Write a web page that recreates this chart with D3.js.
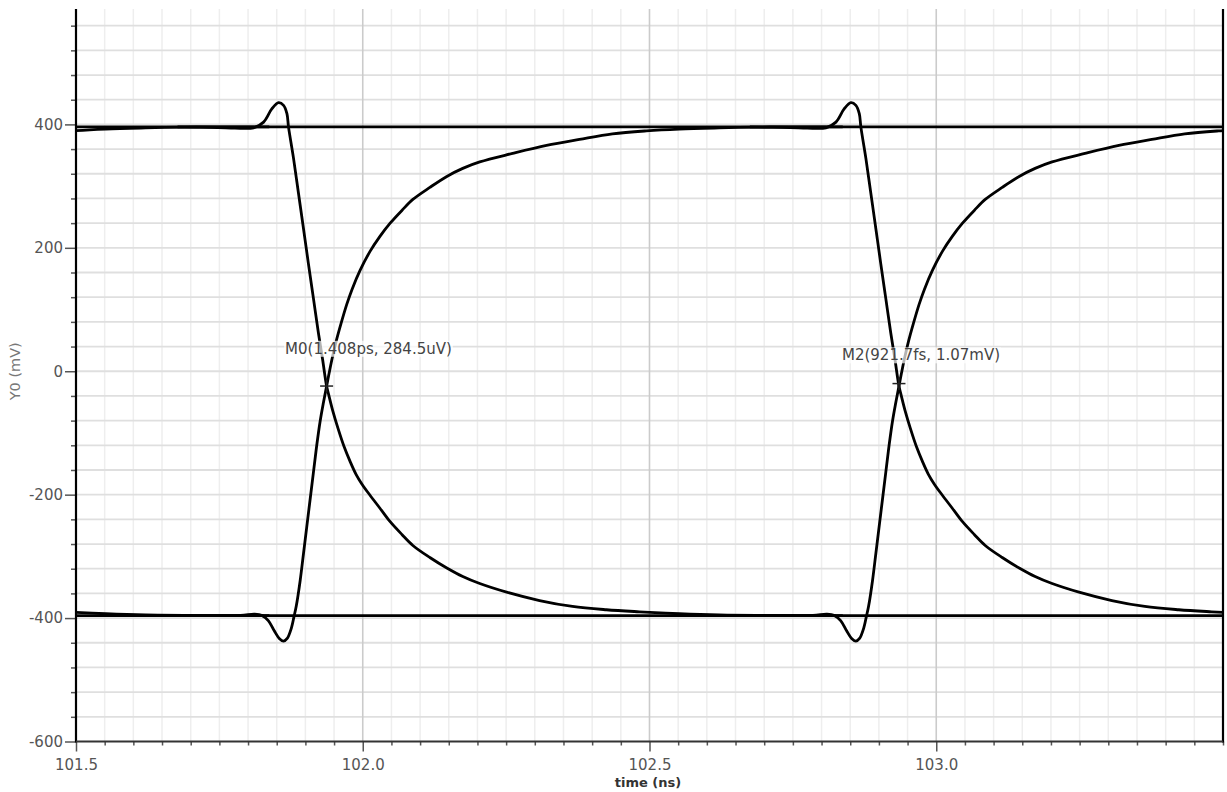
<!DOCTYPE html>
<html>
<head>
<meta charset="utf-8">
<script src="https://cdn.jsdelivr.net/npm/d3@7"></script>
<style>
  html, body { margin: 0; padding: 0; background: #fff; }
  svg { display: block; }
</style>
</head>
<body>
<svg id="chart" width="1227" height="792"></svg>
<script>
// ---------------- DATA ----------------
const xDomain = [101.5, 103.5];          // time (ns)
const yDomain = [-600, 587];             // Y0 (mV)
const xTickValues = [101.5, 102.0, 102.5, 103.0];
const xTickLabels = ["101.5", "102.0", "102.5", "103.0"];
const yTickValues = [-600, -400, -200, 0, 200, 400];
const yTickLabels = ["-600", "-400", "-200", "0", "200", "400"];
const xMinorStep = 0.05;
const yMinorStep = 40;

// steady levels (mV)
const highLevel = [[101.5, 396], [103.5, 396]];
const lowLevel = [[101.5, -396], [103.5, -396]];

// times (ns) of the edge crossings (previous, M0, M2)
const edgeCrossTimes = [100.937, 101.937, 102.935];

// falling edge: [time offset from crossing (ns), mV]
const fallingEdge = [
  [-0.260, 396], [-0.190, 395], [-0.160, 394], [-0.1273, 394.5],
  [-0.1099, 403.7], [-0.0953, 425.4], [-0.0838, 435.2], [-0.0751, 430.8],
  [-0.0692, 417.3], [-0.0664, 395.6], [-0.0577, 345], [-0.0490, 288],
  [-0.0403, 231], [-0.0317, 174], [-0.0230, 118], [-0.0143, 62],
  [-0.0070, 19], [0, -24.1],
  [0.0044, -41], [0.0110, -65], [0.0200, -93], [0.0304, -122],
  [0.0409, -146], [0.0513, -167], [0.0617, -183], [0.0757, -201],
  [0.0930, -222], [0.1104, -243.4], [0.1313, -264.5], [0.1504, -282.3],
  [0.1800, -301.8], [0.2096, -318.8], [0.2374, -332.6], [0.2670, -344],
  [0.3139, -358], [0.3713, -371.6], [0.4287, -381.2], [0.4878, -386.5],
  [0.5452, -389.8], [0.6148, -393], [0.6843, -395], [0.8226, -396], [0.90, -396]
];

// rising edge: [time offset from crossing (ns), mV]
const risingEdge = [
  [-0.260, -396], [-0.150, -395.5], [-0.1254, -393.5], [-0.1122, -396],
  [-0.1017, -404], [-0.0913, -420.6], [-0.0826, -433], [-0.0751, -437.4],
  [-0.0687, -433], [-0.0617, -417], [-0.0565, -396], [-0.0530, -381],
  [-0.0461, -339], [-0.0403, -295.3], [-0.0322, -233.7], [-0.0230, -164],
  [-0.0172, -120], [-0.0113, -81], [-0.0056, -51], [0, -24.1],
  [0.0044, -3], [0.0096, 20.6], [0.0165, 48], [0.0252, 77.5],
  [0.0351, 108.3], [0.0443, 132.6], [0.0583, 163.4], [0.0757, 194.2],
  [0.0930, 218.5], [0.1104, 239.5], [0.1313, 260.6], [0.1504, 278.4],
  [0.1800, 297.9], [0.2096, 315.7], [0.2374, 328.7], [0.2670, 339.2],
  [0.3243, 353.0], [0.3835, 366.0], [0.4409, 375.7], [0.4983, 384.6],
  [0.5574, 389.5], [0.6148, 392.4], [0.6843, 394.3], [0.7530, 395.6],
  [0.8226, 396], [0.90, 396]
];

// markers
const markerNames = ["M0", "M2"];
const markerTimes = [101.937, 102.935];
const markerValues = [-24, -20];
const markerLabels = ["M0(1.408ps, 284.5uV)", "M2(921.7fs, 1.07mV)"];

// ---------------- LAYOUT ----------------
const plot = { left: 76, right: 1223, top: 9, bottom: 741.5 };
const labelOffsets = [[-41.5, -37.5], [-57, -28.5]]; // label left / center-y relative to marker
const svg = d3.select("#chart");
const FONT = "'DejaVu Sans', Verdana, sans-serif";

const x = d3.scaleLinear().domain(xDomain).range([plot.left, plot.right]);
const y = d3.scaleLinear().domain(yDomain).range([plot.bottom, plot.top]);

// clip
svg.append("defs").append("clipPath").attr("id", "clip")
  .append("rect").attr("x", plot.left).attr("y", plot.top)
  .attr("width", plot.right - plot.left).attr("height", plot.bottom - plot.top);

// ---------------- GRID ----------------
const grid = svg.append("g");
const xMinor = d3.range(xDomain[0] + xMinorStep, xDomain[1] + 1e-9, xMinorStep)
  .filter(v => !xTickValues.some(t => Math.abs(t - v) < 1e-6));
const yMinor = d3.range(yDomain[0] + yMinorStep, yDomain[1], yMinorStep);

grid.selectAll("line.vmin").data(xMinor).join("line")
  .attr("x1", d => x(d)).attr("x2", d => x(d))
  .attr("y1", plot.top).attr("y2", plot.bottom)
  .attr("stroke", "#eeeeee").attr("stroke-width", 1.5);
grid.selectAll("line.hmin").data(yMinor).join("line")
  .attr("x1", plot.left).attr("x2", plot.right)
  .attr("y1", d => y(d)).attr("y2", d => y(d))
  .attr("stroke", "#dfdfdf").attr("stroke-width", 1.8);
grid.selectAll("line.vmaj").data(xTickValues.slice(1)).join("line")
  .attr("x1", d => x(d)).attr("x2", d => x(d))
  .attr("y1", plot.top).attr("y2", plot.bottom)
  .attr("stroke", "#cbcbcb").attr("stroke-width", 1.6);

// ---------------- CURVES ----------------
const line = d3.line().x(d => x(d[0])).y(d => y(d[1])).curve(d3.curveCatmullRom.alpha(0.5));
const curves = svg.append("g").attr("clip-path", "url(#clip)")
  .attr("fill", "none").attr("stroke", "#000").attr("stroke-width", 2.8)
  .attr("stroke-linejoin", "round");

curves.append("path").attr("d", line(highLevel));
curves.append("path").attr("d", line(lowLevel));
edgeCrossTimes.forEach(t0 => {
  curves.append("path").attr("d", line(fallingEdge.map(p => [t0 + p[0], p[1]])));
  curves.append("path").attr("d", line(risingEdge.map(p => [t0 + p[0], p[1]])));
});

// ---------------- AXES ----------------
const yAxis = d3.axisLeft(y).tickValues(yTickValues)
  .tickFormat((d, i) => yTickLabels[i]).tickSize(11).tickPadding(2);
const yAxisMinor = d3.axisLeft(y).tickValues(yMinor.filter(v => !yTickValues.includes(v)))
  .tickFormat("").tickSize(5);
const xAxis = d3.axisBottom(x).tickValues(xTickValues)
  .tickFormat((d, i) => xTickLabels[i]).tickSize(10).tickPadding(8);
const xAxisMinor = d3.axisBottom(x).tickValues(xMinor).tickFormat("").tickSize(4);

function styleAxis(g) {
  g.select(".domain").remove();
  g.selectAll(".tick line").attr("stroke", "#555").attr("stroke-width", 1.5);
  g.selectAll(".tick text").attr("fill", "#555")
    .attr("font-family", FONT).attr("font-size", 15);
}

svg.append("g").attr("transform", `translate(${plot.left},0)`).call(yAxisMinor).call(styleAxis);
svg.append("g").attr("transform", `translate(${plot.left},0)`).call(yAxis).call(styleAxis);
svg.append("g").attr("transform", `translate(0,${plot.bottom})`).call(xAxisMinor).call(styleAxis);
svg.append("g").attr("transform", `translate(0,${plot.bottom})`).call(xAxis).call(styleAxis);

// axis lines
svg.append("line").attr("x1", plot.left).attr("x2", plot.left)
  .attr("y1", plot.top).attr("y2", plot.bottom + 1).attr("stroke", "#000").attr("stroke-width", 2.2);
svg.append("line").attr("x1", plot.right).attr("x2", plot.right)
  .attr("y1", plot.top).attr("y2", plot.bottom + 1).attr("stroke", "#000").attr("stroke-width", 2.2);
svg.append("line").attr("x1", plot.left).attr("x2", plot.right)
  .attr("y1", plot.bottom).attr("y2", plot.bottom).attr("stroke", "#333").attr("stroke-width", 2);

// axis titles
svg.append("text").attr("transform", `translate(20,${y(0)}) rotate(-90)`)
  .attr("text-anchor", "middle").attr("font-family", FONT).attr("font-size", 14.5)
  .attr("fill", "#777").text("Y0 (mV)");
svg.append("text").attr("x", 648).attr("y", 787)
  .attr("text-anchor", "middle").attr("font-family", FONT).attr("font-size", 13)
  .attr("font-weight", "bold").attr("fill", "#333").text("time (ns)");

// ---------------- MARKERS ----------------
const mk = svg.append("g");
markerNames.forEach((name, i) => {
  const mx = x(markerTimes[i]), my = y(markerValues[i]);
  mk.append("line").attr("x1", mx - 6.5).attr("x2", mx + 6.5).attr("y1", my).attr("y2", my)
    .attr("stroke", "#222").attr("stroke-width", 1.5);
  mk.append("line").attr("x1", mx).attr("x2", mx).attr("y1", my - 6.5).attr("y2", my + 6.5)
    .attr("stroke", "#222").attr("stroke-width", 1.5);
  const g = mk.append("g");
  const t = g.append("text").attr("x", mx + labelOffsets[i][0]).attr("y", my + labelOffsets[i][1])
    .attr("dy", "0.35em").attr("font-family", FONT).attr("font-size", 15)
    .attr("fill", "#444").text(markerLabels[i]);
  const bb = t.node().getBBox();
  g.insert("rect", "text").attr("x", bb.x - 1).attr("y", bb.y + 1)
    .attr("width", bb.width + 2).attr("height", bb.height - 2)
    .attr("fill", "#fff").attr("fill-opacity", 0.7);
});
</script>
</body>
</html>
